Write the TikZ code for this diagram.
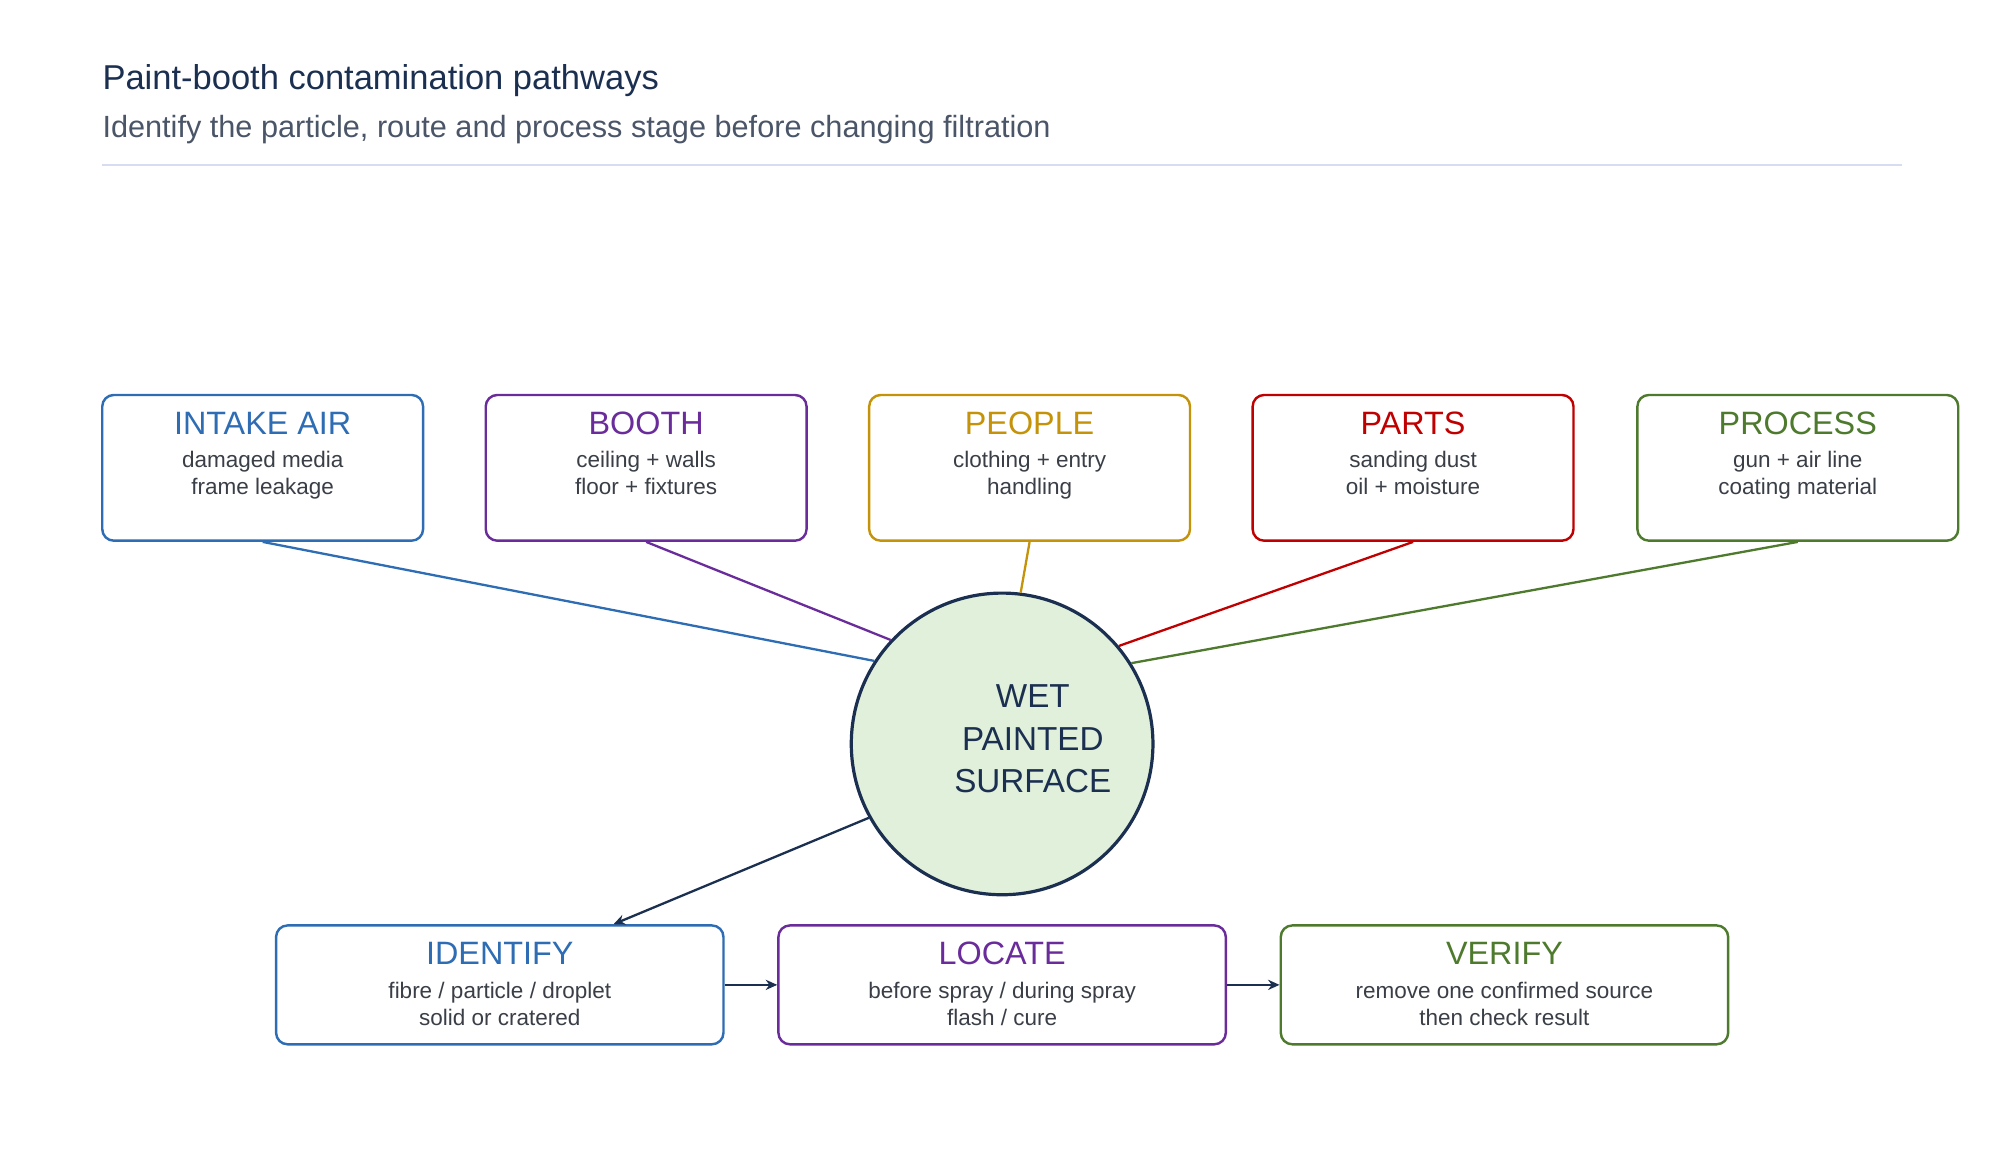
\documentclass[tikz,border=0pt]{standalone}
\usepackage{fontspec}
\setmainfont{Liberation Sans}
\usetikzlibrary{arrows.meta}
\definecolor{navy}{HTML}{1B2F50}
\definecolor{subgray}{HTML}{4A5568}
\definecolor{bodygray}{HTML}{3A3F47}
\definecolor{rulec}{HTML}{D8DCF2}
\definecolor{cblue}{HTML}{2E6DB4}
\definecolor{cpurple}{HTML}{6A2C9A}
\definecolor{cgold}{HTML}{C4930A}
\definecolor{cred}{HTML}{C00000}
\definecolor{cgreen}{HTML}{4E7A2E}
\definecolor{wetfill}{HTML}{E0F0DA}
\tikzset{
  stagebox/.style={draw=#1,line width=1.9pt,rounded corners=9pt,fill=white,inner sep=0pt},
  head/.style={text=#1,font=\fontsize{25.3}{27}\selectfont,inner sep=0pt},
  body/.style={text=bodygray,font=\fontsize{17.6}{21}\selectfont,align=center,inner sep=0pt},
  spoke/.style={draw=#1,line width=1.8pt},
  flow/.style={draw=navy,line width=1.8pt,-{Stealth[length=9pt,width=8pt]}}
}
\newcommand{\stagenode}[8]{%
  \node[stagebox=#2,minimum width=#5pt,minimum height=#6pt] (#1) at (#3,#4) {};
  \node[head=#2] (#1-h) at ([yshift=-23pt]#1.north) {#7};
  \node[body,anchor=north] (#1-b) at ([yshift=-45pt]#1.north) {#8};
}
\begin{document}
\begin{tikzpicture}[x=1pt,y=-1pt]
\useasboundingbox (0,0) rectangle (1560,908);

% heading
\node[anchor=west,text=navy,font=\fontsize{27}{30}\selectfont,inner sep=0pt] (title) at (80,63) {Paint-booth contamination pathways};
\node[anchor=west,text=subgray,font=\fontsize{24}{28}\selectfont,inner sep=0pt] (subtitle) at (80,101) {Identify the particle, route and process stage before changing filtration};
\draw[rulec,line width=1.4pt] (80,129) -- (1488,129);

% sources
\stagenode{intake}{cblue}{205.5}{366}{251}{114}{INTAKE AIR}{damaged media\\frame leakage}
\stagenode{booth}{cpurple}{505.5}{366}{251}{114}{BOOTH}{ceiling + walls\\floor + fixtures}
\stagenode{people}{cgold}{805.5}{366}{251}{114}{PEOPLE}{clothing + entry\\handling}
\stagenode{parts}{cred}{1105.5}{366}{251}{114}{PARTS}{sanding dust\\oil + moisture}
\stagenode{process}{cgreen}{1406.5}{366}{251}{114}{PROCESS}{gun + air line\\coating material}

% surface
\node[circle,draw=navy,line width=2.5pt,fill=wetfill,minimum size=236pt,inner sep=0pt] (wet) at (784,582) {};
\node[text=navy,font=\fontsize{26}{33}\selectfont,align=center] (wet-t) at (808,578) {WET\\PAINTED\\SURFACE};

\draw[spoke=cblue] (intake.south) -- (wet.147);
\draw[spoke=cpurple] (booth.south) -- (wet.137.7);
\draw[spoke=cgold] (people.south) -- (wet.83);
\draw[spoke=cred] (parts.south) -- (wet.40);
\draw[spoke=cgreen] (process.south) -- (wet.32);

% diagnosis steps
\stagenode{identify}{cblue}{391}{770.5}{350}{93}{IDENTIFY}{fibre / particle / droplet\\solid or cratered}
\stagenode{locate}{cpurple}{784}{770.5}{350}{93}{LOCATE}{before spray / during spray\\flash / cure}
\stagenode{verify}{cgreen}{1177}{770.5}{350}{93}{VERIFY}{remove one confirmed source\\then check result}

\draw[flow] (wet.209) -- ([xshift=89pt]identify.north);
\draw[flow] (identify.east) -- (locate.west);
\draw[flow] (locate.east) -- (verify.west);
\end{tikzpicture}
\end{document}
